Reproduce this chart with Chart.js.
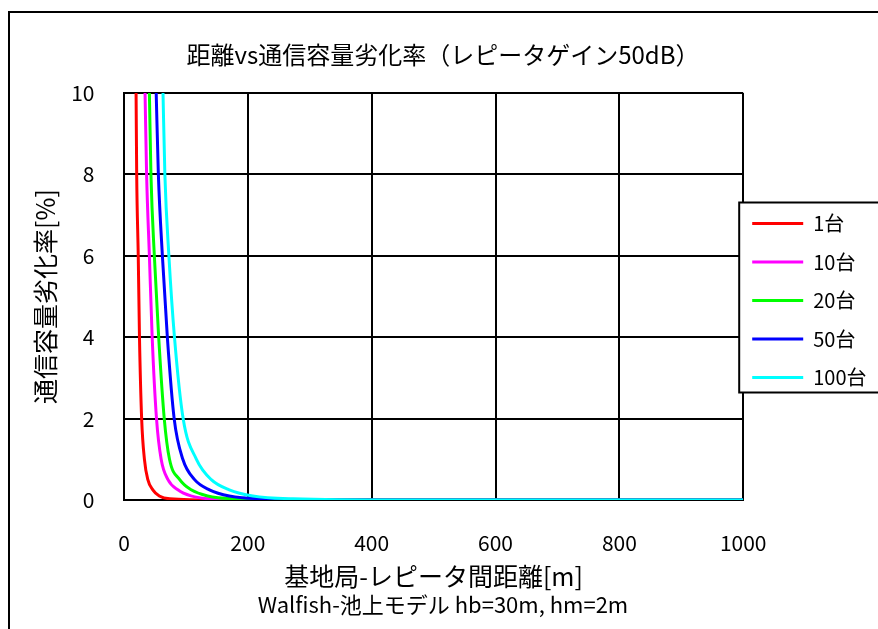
<!DOCTYPE html>
<html>
<head>
<meta charset="utf-8">
<script src="https://cdn.jsdelivr.net/npm/chart.js@4.4.1/dist/chart.umd.min.js"></script>
<style>
  body { margin: 0; background: #fff; overflow: hidden; }
  canvas { display: block; }
</style>
</head>
<body>
<canvas id="graph1" width="890" height="640"></canvas>
<script>
// distance [m] where each curve crosses these degradation levels [%]
let levels = [10, 8, 6, 4, 2, 1, 0.5, 0.25, 0.1, 0.03, 0, 0];
let dist1 = [19.5, 20.5, 23, 25, 28.5, 33, 38.5, 46.5, 57, 74, 150, 1000];
let dist10 = [34, 36.5, 41, 45.5, 52.5, 60, 71, 87, 108, 138, 250, 1000];
let dist20 = [41, 43.5, 49, 56, 65, 73.5, 90, 108.5, 135, 176, 300, 1000];
let dist50 = [52, 55.5, 62, 70, 81, 95, 114, 138, 170, 224, 380, 1000];
let dist100 = [63, 66, 72.5, 81.5, 95.5, 117, 141, 170, 208, 273, 450, 1000];
let seriesNames = ['1台', '10台', '20台', '50台', '100台'];

let colors = ['#ff0000', '#ff00ff', '#00ff00', '#0000ff', '#00ffff'];
let dists = [dist1, dist10, dist20, dist50, dist100];

Chart.defaults.font.family = "'Noto Sans CJK JP', sans-serif";
Chart.defaults.color = '#000';

let datasets = [];
dists.forEach((d, i) => {
    datasets.push({
        label: seriesNames[i],
        data: d.map((x, j) => ({ x: x, y: levels[j] })),
        borderColor: colors[i],
        backgroundColor: colors[i],
        borderWidth: 3,
        pointRadius: 0,
        cubicInterpolationMode: 'monotone',
        order: dists.length - i   // last series drawn on top
    });
});

const framePlugin = {
    id: 'frame',
    afterLayout(chart) {
        let lg = chart.legend;
        lg.left = chart.chartArea.right + 9 - lg.options.labels.padding;
        lg.top += 4;
        lg.bottom += 4;
    },
    beforeDraw(chart) {
        const ctx = chart.ctx;
        ctx.save();
        ctx.strokeStyle = '#000';
        ctx.lineWidth = 2;
        ctx.strokeRect(9, 12, chart.width + 20, chart.height + 20);
        ctx.restore();
    },
    afterDraw(chart) {
        const ctx = chart.ctx;
        let lg = chart.legend;
        let hb = lg.legendHitBoxes;
        let top = hb[0].top + hb[0].height / 2 - 21;
        let last = hb[hb.length - 1];
        let bottom = last.top + last.height / 2 + 15;
        let left = chart.chartArea.right - 4;
        ctx.save();
        ctx.fillStyle = '#fff';
        ctx.fillRect(left, top, chart.width, bottom - top);
        ctx.strokeStyle = '#000';
        ctx.lineWidth = 2;
        ctx.strokeRect(left, top, chart.width, bottom - top);
        ctx.restore();
        lg.draw();
    }
};

const ctx = document.getElementById('graph1').getContext('2d');
let myChart = new Chart(ctx, {
    type: 'line',
    data: { datasets: datasets },
    options: {
        responsive: false,
        animation: false,
        layout: { padding: { left: 0, right: 4, top: 0, bottom: 0 } },
        scales: {
            x: {
                type: 'linear',
                min: 0,
                max: 1000,
                ticks: {
                    stepSize: 200,
                    padding: 30,
                    font: { size: 21 },
                    callback: (v) => String(v)
                },
                grid: { color: '#000', lineWidth: 2, drawTicks: false },
                border: { color: '#000', width: 2 },
                title: {
                    display: true,
                    text: '基地局-レピータ間距離[m]',
                    font: { size: 25, lineHeight: 1 },
                    padding: { top: 0, bottom: 1 }
                },
                afterFit: (s) => { s.height = 90; }
            },
            y: {
                min: 0,
                max: 10,
                ticks: { stepSize: 2, padding: 29.5, font: { size: 21 } },
                grid: { color: '#000', lineWidth: 2, drawTicks: false },
                border: { color: '#000', width: 2 },
                title: {
                    display: true,
                    text: '通信容量劣化率[%]',
                    font: { size: 25, lineHeight: 1 },
                    padding: { top: 32.5, bottom: 0 }
                },
                afterFit: (s) => { s.width = 124; }
            }
        },
        plugins: {
            title: {
                display: true,
                text: '距離vs通信容量劣化率（レピータゲイン50dB）',
                font: { size: 24, weight: 'normal', lineHeight: 1 },
                padding: { top: 42.4, bottom: 26.6 }
            },
            subtitle: {
                display: true,
                position: 'bottom',
                text: 'Walfish-池上モデル hb=30m, hm=2m',
                font: { size: 22, lineHeight: 1 },
                padding: { top: 4, bottom: 24 }
            },
            legend: {
                position: 'right',
                fullSize: false,
                labels: {
                    usePointStyle: true,
                    pointStyle: 'line',
                    pointStyleWidth: 51,
                    padding: 18.5,
                    font: { size: 20 },
                    sort: (a, b) => a.datasetIndex - b.datasetIndex
                }
            },
            tooltip: { enabled: false }
        }
    },
    plugins: [framePlugin]
});
</script>
</body>
</html>
